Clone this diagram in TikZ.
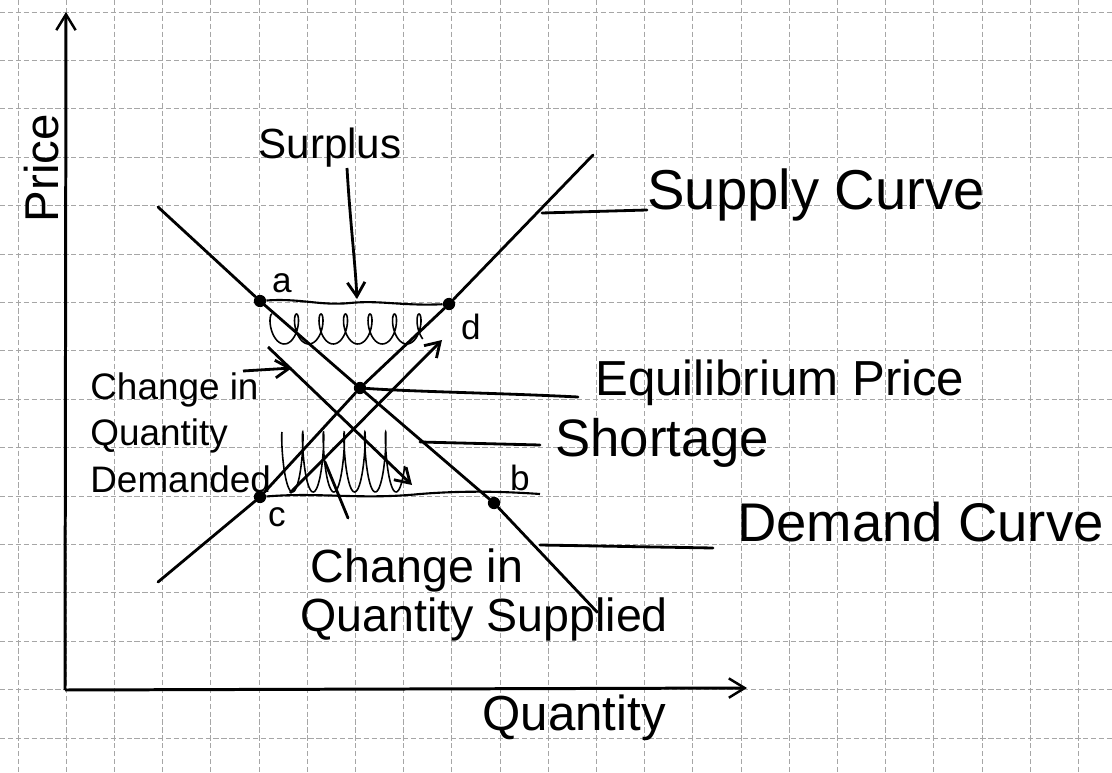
\documentclass[tikz,border=0pt]{standalone}
\usepackage{fontspec}
\setmainfont{Liberation Sans}
\usetikzlibrary{arrows.meta}
\tikzset{
  gridline/.style={gray!70, line width=0.4pt, dash pattern=on 3pt off 1.5pt},
  axisline/.style={line width=1.7pt, -{Straight Barb[length=9pt,width=11pt,line width=1.4pt]}},
  curveline/.style={line width=1.6pt, line cap=round},
  leader/.style={line width=1.6pt, line cap=round},
  arrowline/.style={line width=1.6pt, -{Straight Barb[length=8pt,width=10pt,line width=1.6pt]}},
  pt/.style={circle, fill=black, inner sep=0pt, minimum size=7pt},
  scribble/.style={line width=0.9pt, smooth},
  lab/.style={inner sep=0pt, anchor=base west},
}
\begin{document}
\begin{tikzpicture}[x=0.02cm, y=-0.02cm]
\useasboundingbox (0,0) rectangle (1112,773);
\fill[white] (0,0) rectangle (1112,773);
% grid
\foreach \i in {0,...,22} {\draw[gridline] ({18+48.2*\i},0) -- ({18+48.2*\i},773);}
\foreach \j in {0,...,15} {\draw[gridline] (0,{12+48.4*\j}) -- (1112,{12+48.4*\j});}

% axes
\coordinate (O) at (65,690);
\coordinate (Ytop) at (66,12);
\coordinate (Xend) at (747,688);
\draw[axisline] (O) -- (Ytop);
\draw[axisline] (O) -- (Xend);
\node[rotate=90, font=\fontsize{27}{30}\selectfont] (price) at (42,168) {Price};
\node[font=\fontsize{28}{30}\selectfont] (qty) at (574,718) {Quantity};

% points
\node[pt] (a) at (260,301) {};
\node[pt] (d) at (449,304) {};
\node[pt] (eq) at (360,388) {};
\node[pt] (c) at (260,497) {};
\node[pt] (b) at (494,503) {};
\node[font=\fontsize{20}{22}\selectfont] (la) at (282,283) {a};
\node[font=\fontsize{20}{22}\selectfont] (ld) at (471,327) {d};
\node[font=\fontsize{20}{22}\selectfont] (lb) at (520,478) {b};
\node[font=\fontsize{20}{22}\selectfont] (lc) at (277,517) {c};

% demand curve
\coordinate (D1) at (158,207);
\coordinate (D2) at (597,612);
\draw[curveline] (D1) -- (a) -- (eq) -- (b) -- (D2);
% supply curve
\coordinate (S1) at (158,582);
\coordinate (S2) at (593,155);
\draw[curveline] (S1) -- (c) -- (eq) -- (d) -- (S2);

% change in quantity demanded arrow
\coordinate (QD1) at (268,347);
\coordinate (QD2) at (412,485);
\draw[arrowline] (QD1) -- (QD2);
% change in quantity supplied arrow
\coordinate (QS1) at (290,493);
\coordinate (QS2) at (442,340);
\draw[arrowline] (QS1) -- (QS2);
\coordinate (QSt1) at (348,518);
\coordinate (QSt2) at (325,462);
\draw[leader] (QSt1) -- (QSt2);

% surplus region
\draw[line width=1.2pt] (a) .. controls (300,298) and (320,306) .. (350,303) .. controls (380,300) and (400,306) .. (d);
\draw[scribble] plot[domain=0:40, samples=260, variable=\t] ({272+3.9*\t-7*sin(\t r)}, {329-15*cos(\t r)});
% shortage region
\draw[line width=1.2pt] (c) .. controls (320,492) and (360,500) .. (420,494) .. controls (470,490) and (510,492) .. (540,494);
\draw[scribble] plot[domain=0:36, samples=260, variable=\t] ({282+3.3*\t-4*sin(\t r)}, {462-30*cos(\t r)});

% labels
\node[font=\fontsize{24}{26}\selectfont] (surplus) at (330,148) {Surplus};
\coordinate (sa1) at (347,168);
\draw[arrowline] (sa1) .. controls (350,220) and (355,260) .. (357,299);

\node[lab, font=\fontsize{32}{34}\selectfont] (supply) at (647,210) {Supply Curve};
\coordinate (sl1) at (542,213);
\draw[leader] (sl1) -- (supply.base west);

\node[lab, font=\fontsize{28}{30}\selectfont] (eqp) at (595,396) {Equilibrium Price};
\draw[leader] (eq) .. controls (420,392) and (500,393) .. (578,397);

\node[lab, font=\fontsize{30}{32}\selectfont] (short) at (555,456) {Shortage};
\coordinate (sh1) at (420,442);
\draw[leader] (sh1) -- (540,445);

\node[lab, font=\fontsize{31}{33}\selectfont] (dem) at (737,541) {Demand Curve};
\coordinate (dl1) at (540,545);
\draw[leader] (dl1) -- (713,548);

\node[font=\fontsize{21}{26.5}\selectfont, align=left, anchor=north west, inner sep=0pt] (cqd) at (90,372) {Change in\\Quantity\\Demanded};
\coordinate (cqa) at (243,371);
\draw[arrowline] (cqa) -- (292,368);

\node[font=\fontsize{26.5}{28}\selectfont, align=left, anchor=north west, inner sep=0pt] (cqs) at (300,548) {\hspace*{6pt}Change in\\Quantity Supplied};
\end{tikzpicture}
\end{document}
